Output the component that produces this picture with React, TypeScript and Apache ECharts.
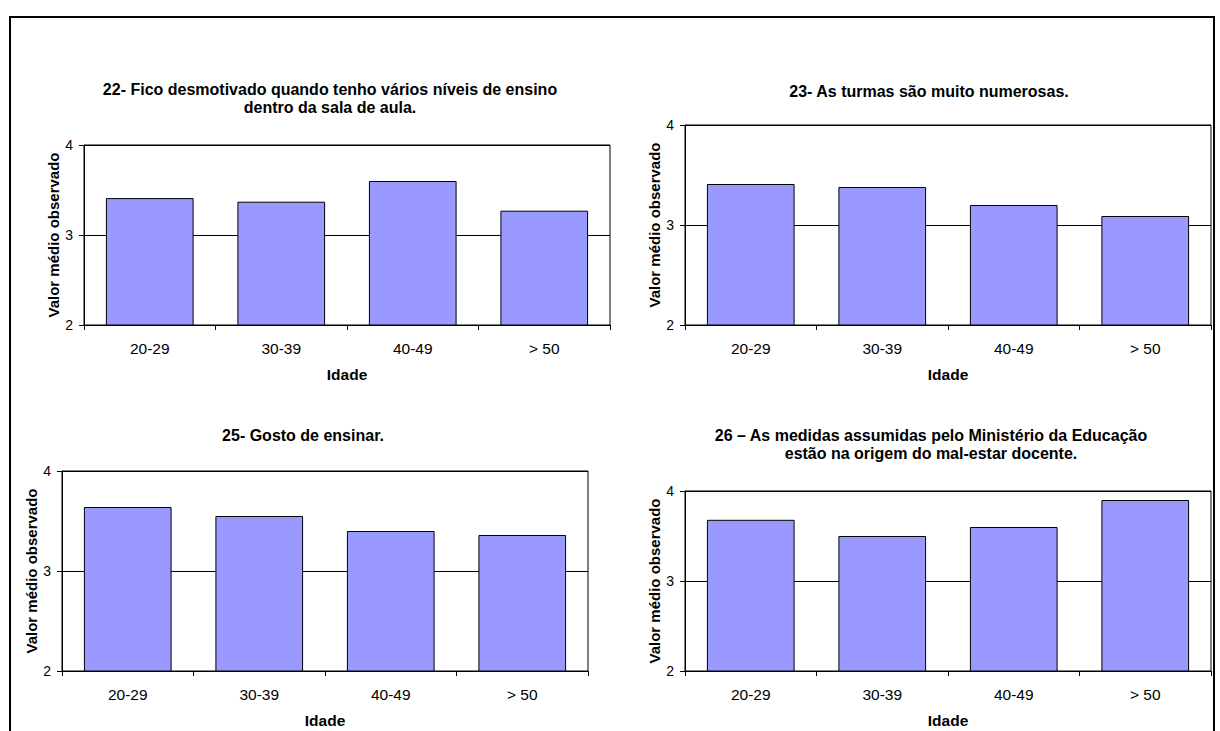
import React, { useEffect, useRef } from "react";
import * as echarts from "echarts";

// Age groups on the horizontal axis
const categories = ["20-29", "30-39", "40-49", "> 50"];

// Mean observed value per age group, one array per questionnaire item
const values22 = [3.41, 3.37, 3.6, 3.27];
const values23 = [3.41, 3.38, 3.2, 3.09];
const values25 = [3.64, 3.55, 3.4, 3.36];
const values26 = [3.68, 3.5, 3.6, 3.9];

const title22 = "22- Fico desmotivado quando tenho vários níveis de ensino\ndentro da sala de aula.";
const title23 = "23- As turmas são muito numerosas.";
const title25 = "25- Gosto de ensinar.";
const title26 = "26 – As medidas assumidas pelo Ministério da Educação\nestão na origem do mal-estar docente.";

const yTicks = { min: 2, max: 4, interval: 1 };
const xName = "Idade";
const yName = "Valor médio observado";

const FONT = "'Liberation Sans', Arial, sans-serif";

// Panel layout: plot rectangle plus title anchor
const panels = [
  { values: values22, title: title22, grid: { left: 84, top: 145, width: 526, height: 180 }, tx: 330, ty: 80 },
  { values: values23, title: title23, grid: { left: 685, top: 125, width: 526, height: 200 }, tx: 929, ty: 82 },
  { values: values25, title: title25, grid: { left: 62, top: 471, width: 526, height: 200 }, tx: 303, ty: 426 },
  { values: values26, title: title26, grid: { left: 685, top: 491, width: 526, height: 180 }, tx: 931, ty: 426 },
];

function buildOption() {
  const grid: any[] = [];
  const xAxis: any[] = [];
  const yAxis: any[] = [];
  const series: any[] = [];
  const graphic: any[] = [
    {
      type: "rect",
      shape: { x: 10, y: 17, width: 1204, height: 760 },
      style: { fill: "none", stroke: "#000", lineWidth: 2 },
      silent: true,
    },
  ];

  panels.forEach((p, i) => {
    grid.push({
      ...p.grid,
      show: true,
      borderColor: "#000",
      borderWidth: 1,
      backgroundColor: "transparent",
    });
    xAxis.push({
      type: "category",
      gridIndex: i,
      data: categories,
      name: xName,
      nameLocation: "middle",
      nameGap: 41,
      nameTextStyle: { fontFamily: FONT, fontSize: 15.5, fontWeight: "bold", color: "#000" },
      axisLine: { show: true, lineStyle: { color: "#000", width: 1 } },
      axisTick: { show: true, length: 5, lineStyle: { color: "#000" } },
      axisLabel: { margin: 15, fontFamily: FONT, fontSize: 15.5, color: "#000" },
      splitLine: { show: false },
    });
    yAxis.push({
      type: "value",
      gridIndex: i,
      min: yTicks.min,
      max: yTicks.max,
      interval: yTicks.interval,
      name: yName,
      nameLocation: "middle",
      nameGap: 23,
      nameTextStyle: { fontFamily: FONT, fontSize: 15, fontWeight: "bold", color: "#000" },
      axisLine: { show: true, lineStyle: { color: "#000", width: 1 } },
      axisTick: { show: true, length: 5, lineStyle: { color: "#000" } },
      axisLabel: { margin: 11, fontFamily: FONT, fontSize: 14, color: "#000" },
      splitLine: { show: true, lineStyle: { color: "#000", width: 1 } },
    });
    series.push({
      type: "bar",
      xAxisIndex: i,
      yAxisIndex: i,
      data: p.values,
      barCategoryGap: "33.33%",
      itemStyle: { color: "#9999FF", borderColor: "#000", borderWidth: 1 },
    });
    graphic.push({
      type: "text",
      x: p.tx,
      y: p.ty,
      silent: true,
      style: {
        text: p.title,
        align: "center",
        verticalAlign: "top",
        fontFamily: FONT,
        fontSize: 16,
        fontWeight: "bold",
        lineHeight: 18.5,
        fill: "#000",
      },
    });
  });

  return {
    animation: false,
    backgroundColor: "#fff",
    grid,
    xAxis,
    yAxis,
    series,
    graphic,
  };
}

export default function App() {
  const ref = useRef<HTMLDivElement>(null);

  useEffect(() => {
    if (!ref.current) return;
    const chart = echarts.init(ref.current, undefined, { renderer: "svg" });
    chart.setOption(buildOption());
    return () => chart.dispose();
  }, []);

  return (
    <div
      ref={ref}
      style={{ position: "fixed", left: 0, top: 0, width: 1220, height: 731, background: "#fff" }}
    />
  );
}
